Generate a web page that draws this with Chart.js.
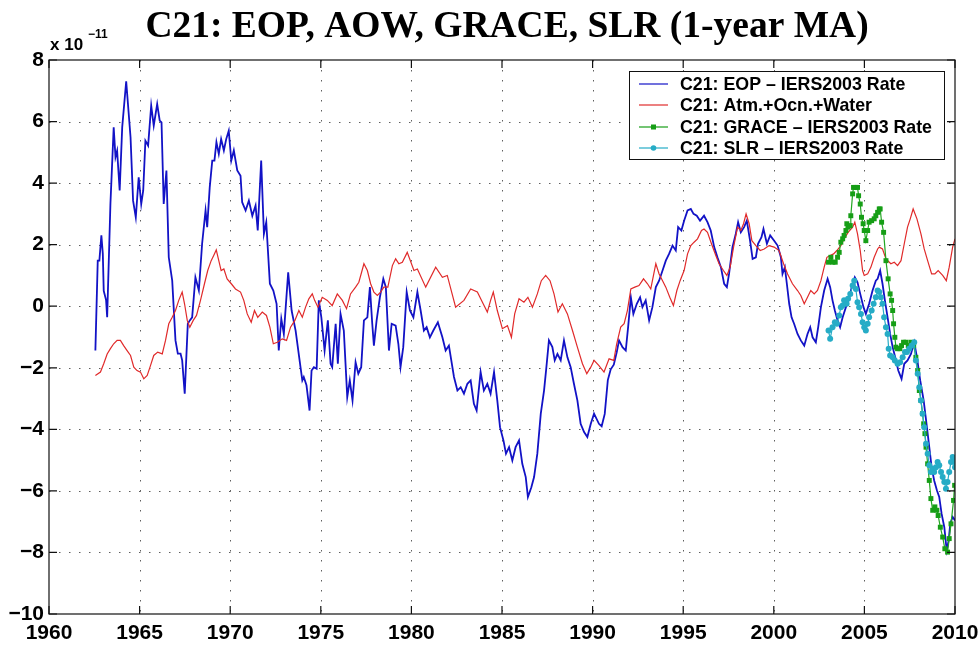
<!DOCTYPE html>
<html>
<head>
<meta charset="utf-8">
<script src="https://cdn.jsdelivr.net/npm/chart.js@4.4.0/dist/chart.umd.min.js"></script>
<style>
    html, body { margin: 0; padding: 0; background: #fff; }
</style>
</head>
<body>
<canvas id="c21Rates" width="979" height="646"></canvas>
<script>
// tick values
const xTicks = [1960, 1965, 1970, 1975, 1980, 1985, 1990, 1995, 2000, 2005, 2010];
const yTicks = [-10, -8, -6, -4, -2, 0, 2, 4, 6, 8];

// C21 EOP - IERS2003 rate (units of 1e-11)
const eopYears = [
    1962.56, 1962.69, 1962.78, 1962.89, 1962.97, 1963.02, 1963.15, 1963.21, 1963.39, 1963.57,
    1963.67, 1963.76, 1963.90, 1964.04, 1964.26, 1964.50, 1964.64, 1964.79, 1964.95, 1965.09,
    1965.20, 1965.32, 1965.47, 1965.64, 1965.78, 1965.97, 1966.11, 1966.21, 1966.33, 1966.48,
    1966.61, 1966.80, 1966.98, 1967.11, 1967.26, 1967.35, 1967.49, 1967.66, 1967.77, 1967.90,
    1968.08, 1968.27, 1968.45, 1968.64, 1968.73, 1968.87, 1969.01, 1969.13, 1969.24, 1969.37,
    1969.50, 1969.65, 1969.78, 1969.92, 1970.06, 1970.20, 1970.39, 1970.57, 1970.66, 1970.85,
    1971.03, 1971.22, 1971.40, 1971.52, 1971.71, 1971.86, 1971.99, 1972.19, 1972.38, 1972.56,
    1972.68, 1972.82, 1972.96, 1973.20, 1973.39, 1973.61, 1973.88, 1973.98, 1974.06, 1974.21,
    1974.38, 1974.49, 1974.62, 1974.77, 1974.89, 1975.03, 1975.21, 1975.39, 1975.54, 1975.63,
    1975.82, 1975.94, 1976.09, 1976.27, 1976.46, 1976.60, 1976.75, 1976.92, 1977.07, 1977.23,
    1977.38, 1977.57, 1977.71, 1977.84, 1977.93, 1978.08, 1978.26, 1978.45, 1978.59, 1978.76,
    1978.91, 1979.13, 1979.28, 1979.40, 1979.55, 1979.74, 1979.92, 1980.11, 1980.33, 1980.51,
    1980.69, 1980.84, 1981.02, 1981.21, 1981.46, 1981.71, 1981.89, 1982.07, 1982.35, 1982.54,
    1982.72, 1982.90, 1983.09, 1983.27, 1983.45, 1983.60, 1983.82, 1984.00, 1984.19, 1984.37,
    1984.56, 1984.74, 1984.89, 1985.08, 1985.22, 1985.39, 1985.57, 1985.75, 1985.94, 1986.12,
    1986.31, 1986.43, 1986.62, 1986.77, 1986.95, 1987.14, 1987.32, 1987.45, 1987.59, 1987.78,
    1987.91, 1988.06, 1988.24, 1988.42, 1988.61, 1988.79, 1988.97, 1989.16, 1989.34, 1989.53,
    1989.71, 1989.90, 1990.08, 1990.35, 1990.50, 1990.67, 1990.84, 1991.00, 1991.17, 1991.33,
    1991.46, 1991.65, 1991.83, 1991.96, 1992.11, 1992.25, 1992.44, 1992.62, 1992.75, 1992.93,
    1993.12, 1993.30, 1993.49, 1993.67, 1993.86, 1994.04, 1994.22, 1994.41, 1994.59, 1994.72,
    1994.90, 1995.05, 1995.24, 1995.42, 1995.57, 1995.75, 1995.93, 1996.15, 1996.34, 1996.52,
    1996.71, 1996.89, 1997.08, 1997.26, 1997.41, 1997.53, 1997.72, 1997.90, 1998.03, 1998.18,
    1998.36, 1998.51, 1998.69, 1998.83, 1999.01, 1999.13, 1999.32, 1999.43, 1999.62, 1999.80,
    2000.02, 2000.21, 2000.39, 2000.48, 2000.61, 2000.72, 2000.85, 2000.98, 2001.12, 2001.31,
    2001.49, 2001.68, 2001.86, 2002.01, 2002.14, 2002.32, 2002.45, 2002.60, 2002.78, 2002.97,
    2003.11, 2003.24, 2003.37, 2003.52, 2003.66, 2003.80, 2003.98, 2004.16, 2004.35, 2004.47,
    2004.62, 2004.77, 2004.95, 2005.08, 2005.26, 2005.45, 2005.63, 2005.73, 2005.87, 2006.00,
    2006.13, 2006.28, 2006.42, 2006.56, 2006.70, 2006.87, 2007.05, 2007.20, 2007.38, 2007.57,
    2007.75, 2007.90, 2008.08, 2008.27, 2008.45, 2008.58, 2008.71, 2008.85, 2009.00, 2009.13,
    2009.26, 2009.41, 2009.54, 2009.65, 2009.74, 2009.87, 2010.00
];
const eopRate = [
    -1.44, 1.48, 1.48, 2.30, 1.70, 0.50, 0.20, -0.36, 3.33, 5.81,
    4.84, 5.05, 3.76, 5.81, 7.31, 5.49, 3.43, 2.89, 4.19, 3.32,
    3.76, 5.38, 5.22, 6.52, 5.87, 6.57, 6.03, 5.97, 3.32, 4.41,
    1.59, 0.83, -1.11, -1.54, -1.54, -1.76, -2.84, -0.57, -0.46, -0.36,
    0.94, 0.51, 2.03, 3.11, 2.57, 3.86, 4.73, 4.73, 5.33, 4.95,
    5.43, 5.06, 5.43, 5.70, 4.73, 5.06, 4.41, 4.24, 3.38, 3.11,
    3.43, 2.94, 3.27, 2.46, 4.73, 2.35, 2.73, 0.73, 0.51, 0.08,
    -1.44, -0.41, -0.90, 1.10, -0.14, -0.79, -1.98, -2.41, -2.30, -2.57,
    -3.39, -2.09, -1.98, -2.03, 0.19, -0.36, -1.44, -0.46, -1.87, -1.98,
    -0.57, -1.87, -0.25, -0.79, -2.95, -2.41, -3.06, -1.82, -2.19, -1.98,
    -0.46, -0.36, 0.62, -0.57, -1.28, -0.46, 0.29, 0.89, 0.62, -1.44,
    -0.57, -0.63, -1.22, -1.98, -1.33, 0.46, -0.14, -0.36, 0.46, -0.14,
    -0.79, -0.68, -1.01, -0.79, -0.52, -1.01, -1.44, -1.28, -2.30, -2.74,
    -2.63, -2.84, -2.52, -2.41, -3.17, -3.39, -2.14, -2.74, -2.52, -2.84,
    -2.14, -3.06, -3.93, -4.36, -4.79, -4.58, -5.01, -4.58, -4.36, -5.12,
    -5.55, -6.20, -5.88, -5.55, -4.79, -3.49, -2.74, -1.98, -1.11, -1.33,
    -1.76, -1.55, -1.76, -1.11, -1.66, -1.98, -2.52, -3.06, -3.82, -4.09,
    -4.25, -3.82, -3.49, -3.82, -3.90, -3.50, -2.40, -2.05, -1.90, -1.50,
    -1.11, -1.33, -1.44, -0.68, 0.29, -0.25, 0.08, 0.29, -0.03, 0.19,
    -0.46, -0.03, 0.62, 0.83, 1.16, 1.48, 1.70, 1.97, 1.81, 2.57,
    2.46, 2.78, 3.11, 3.16, 3.00, 2.94, 2.78, 2.94, 2.73, 2.46,
    1.92, 1.59, 1.27, 0.73, 0.62, 1.05, 1.92, 2.35, 2.73, 2.40,
    2.57, 2.78, 2.13, 1.54, 1.59, 2.03, 2.24, 2.51, 2.03, 2.30,
    2.13, 1.97, 1.59, 1.05, 1.27, 0.73, 0.08, -0.36, -0.57, -0.90,
    -1.11, -1.28, -0.90, -0.68, -1.01, -1.17, -0.68, -0.03, 0.51, 0.89,
    0.62, 0.19, -0.14, -0.46, -0.68, -0.36, -0.03, 0.29, 0.73, 0.94,
    0.78, 0.40, -0.03, -0.25, 0.08, 0.51, 0.83, 0.89, 1.16, 0.73,
    0.19, -0.36, -0.90, -1.33, -1.66, -2.09, -2.36, -1.87, -1.76, -1.55,
    -1.17, -1.66, -2.41, -3.06, -3.93, -4.58, -5.23, -5.66, -5.98, -6.20,
    -6.74, -7.18, -7.93, -7.61, -7.06, -6.85, -6.96
];

// C21 atmosphere + ocean + water
const aowYears = [
    1962.56, 1962.84, 1963.02, 1963.21, 1963.39, 1963.57, 1963.76, 1963.94, 1964.12, 1964.31,
    1964.50, 1964.68, 1964.86, 1965.05, 1965.23, 1965.42, 1965.60, 1965.78, 1966.00, 1966.25,
    1966.43, 1966.61, 1966.80, 1966.98, 1967.16, 1967.35, 1967.48, 1967.63, 1967.77, 1967.96,
    1968.14, 1968.36, 1968.58, 1968.76, 1968.95, 1969.09, 1969.23, 1969.37, 1969.50, 1969.65,
    1969.83, 1970.06, 1970.29, 1970.57, 1970.75, 1970.94, 1971.16, 1971.34, 1971.52, 1971.77,
    1972.00, 1972.19, 1972.38, 1972.60, 1972.87, 1973.11, 1973.33, 1973.57, 1973.79, 1973.98,
    1974.16, 1974.34, 1974.53, 1974.66, 1974.84, 1975.08, 1975.36, 1975.63, 1975.91, 1976.19,
    1976.42, 1976.64, 1976.92, 1977.10, 1977.38, 1977.57, 1977.75, 1977.93, 1978.12, 1978.30,
    1978.48, 1978.70, 1978.95, 1979.13, 1979.31, 1979.50, 1979.77, 1980.14, 1980.33, 1980.79,
    1981.34, 1981.71, 1981.98, 1982.44, 1982.90, 1983.27, 1983.64, 1983.92, 1984.19, 1984.37,
    1984.52, 1984.74, 1985.02, 1985.30, 1985.52, 1985.70, 1985.94, 1986.21, 1986.43, 1986.68,
    1986.95, 1987.17, 1987.41, 1987.65, 1987.87, 1988.09, 1988.33, 1988.61, 1988.89, 1989.16,
    1989.44, 1989.68, 1989.90, 1990.08, 1990.35, 1990.63, 1990.91, 1991.17, 1991.33, 1991.55,
    1991.74, 1991.92, 1992.11, 1992.33, 1992.56, 1992.81, 1993.03, 1993.21, 1993.49, 1993.67,
    1993.86, 1994.04, 1994.26, 1994.46, 1994.65, 1994.83, 1995.05, 1995.24, 1995.42, 1995.60,
    1995.79, 1996.01, 1996.15, 1996.34, 1996.56, 1996.80, 1996.98, 1997.22, 1997.41, 1997.59,
    1997.78, 1998.00, 1998.18, 1998.33, 1998.47, 1998.64, 1998.79, 1999.01, 1999.25, 1999.47,
    1999.74, 2000.02, 2000.29, 2000.54, 2000.76, 2001.03, 2001.31, 2001.49, 2001.68, 2001.86,
    2002.04, 2002.23, 2002.41, 2002.60, 2002.78, 2002.93, 2003.11, 2003.30, 2003.48, 2003.70,
    2003.88, 2004.10, 2004.35, 2004.47, 2004.62, 2004.77, 2004.90, 2004.99, 2005.18, 2005.36,
    2005.54, 2005.73, 2005.82, 2006.00, 2006.19, 2006.46, 2006.65, 2006.83, 2007.02, 2007.20,
    2007.38, 2007.53, 2007.69, 2007.90, 2008.12, 2008.30, 2008.49, 2008.71, 2008.89, 2009.07,
    2009.32, 2009.52, 2009.68, 2009.87, 2010.00
];
const aowRate = [
    -2.25, -2.14, -1.87, -1.55, -1.38, -1.22, -1.11, -1.11, -1.28, -1.44,
    -1.60, -1.98, -2.09, -2.14, -2.36, -2.25, -1.93, -1.60, -1.49, -1.55,
    -1.11, -0.57, -0.36, -0.14, 0.19, 0.46, 0.08, -0.46, -0.68, -0.46,
    -0.30, 0.19, 0.73, 1.16, 1.48, 1.65, 1.83, 1.48, 1.16, 1.21,
    0.89, 0.73, 0.56, 0.46, 0.19, -0.25, -0.52, -0.14, -0.36, -0.19,
    -0.30, -0.68, -1.22, -1.17, -1.06, -1.11, -0.68, -0.46, -0.14, -0.36,
    -0.03, 0.24, 0.40, 0.19, -0.03, 0.29, 0.19, 0.02, 0.40, 0.19,
    -0.08, 0.40, 0.62, 0.78, 1.38, 1.16, 0.73, 0.46, 0.35, 0.46,
    0.62, 0.62, 1.32, 1.54, 1.38, 1.43, 1.75, 1.16, 1.21, 0.62,
    1.27, 0.94, 1.00, -0.03, 0.19, 0.56, 0.46, 0.13, -0.19, 0.19,
    0.46, -0.14, -0.73, -0.63, -1.01, -0.25, 0.24, 0.13, 0.29, -0.03,
    0.40, 0.83, 1.00, 0.83, 0.40, -0.19, 0.08, -0.25, -0.79, -1.33,
    -1.87, -2.19, -1.98, -1.76, -1.93, -2.14, -1.71, -1.76, -1.22, -0.68,
    -0.57, -0.14, 0.56, 0.62, 0.67, 0.89, 0.73, 0.56, 1.38, 1.05,
    0.83, 0.62, 0.29, 0.02, 0.51, 0.83, 1.16, 1.70, 1.97, 2.08,
    2.19, 2.46, 2.51, 2.40, 2.03, 1.65, 1.38, 1.16, 1.00, 1.27,
    1.92, 2.57, 2.46, 2.68, 3.00, 2.68, 2.13, 1.97, 1.81, 1.86,
    1.97, 1.92, 1.81, 1.38, 1.05, 0.73, 0.51, 0.35, 0.08, 0.29,
    0.51, 0.40, 0.51, 0.83, 1.27, 1.59, 1.65, 1.70, 1.81, 1.97,
    2.19, 2.40, 2.57, 2.73, 2.35, 1.81, 1.16, 1.00, 1.05, 1.27,
    1.59, 1.86, 1.92, 1.86, 1.54, 1.38, 1.43, 1.32, 1.48, 2.03,
    2.57, 2.84, 3.16, 2.84, 2.35, 1.86, 1.48, 1.05, 1.05, 1.16,
    1.00, 0.83, 1.27, 1.92, 2.19
];

// C21 GRACE - IERS2003 rate
const graceYears = [
    2003.02, 2003.15, 2003.26, 2003.39, 2003.52, 2003.61, 2003.70, 2003.80, 2003.88, 2003.98,
    2004.03, 2004.10, 2004.22, 2004.25, 2004.35, 2004.40, 2004.53, 2004.62, 2004.68, 2004.77,
    2004.84, 2004.93, 2004.99, 2005.08, 2005.18, 2005.26, 2005.40, 2005.54, 2005.63, 2005.73,
    2005.82, 2005.87, 2005.95, 2006.06, 2006.19, 2006.31, 2006.42, 2006.50, 2006.56, 2006.61,
    2006.68, 2006.74, 2006.83, 2006.96, 2007.05, 2007.16, 2007.29, 2007.42, 2007.57, 2007.72,
    2007.84, 2007.94, 2008.03, 2008.12, 2008.21, 2008.27, 2008.34, 2008.40, 2008.49, 2008.58,
    2008.67, 2008.77, 2008.89, 2009.00, 2009.07, 2009.19, 2009.32, 2009.44, 2009.59, 2009.68,
    2009.78, 2009.92, 2009.98
];
const graceRate = [
    1.43, 1.59, 1.43, 1.43, 1.59, 1.75, 2.08, 2.19, 2.30, 2.46,
    2.68, 2.57, 2.62, 2.94, 3.65, 3.86, 3.86, 3.86, 3.59, 3.32,
    2.89, 2.68, 2.46, 2.13, 2.46, 2.73, 2.78, 2.84, 2.94, 3.05,
    3.16, 3.16, 2.73, 2.40, 1.48, 0.89, 0.40, 0.19, -0.14, -0.57,
    -1.01, -1.33, -1.38, -1.38, -1.28, -1.17, -1.17, -1.28, -1.17, -1.28,
    -1.66, -2.09, -2.74, -3.06, -3.49, -3.82, -4.14, -4.58, -5.12, -5.66,
    -6.25, -6.63, -6.52, -6.63, -6.80, -7.18, -7.50, -7.88, -7.99, -7.55,
    -7.07, -6.31, -5.82
];

// C21 SLR - IERS2003 rate
const slrYears = [
    2003.02, 2003.11, 2003.24, 2003.37, 2003.48, 2003.61, 2003.70, 2003.80, 2003.88, 2004.02,
    2004.10, 2004.22, 2004.35, 2004.44, 2004.53, 2004.62, 2004.71, 2004.81, 2004.90, 2004.99,
    2005.08, 2005.18, 2005.26, 2005.40, 2005.51, 2005.63, 2005.73, 2005.82, 2005.91, 2006.00,
    2006.09, 2006.19, 2006.28, 2006.34, 2006.42, 2006.56, 2006.68, 2006.83, 2006.97, 2007.11,
    2007.24, 2007.35, 2007.47, 2007.61, 2007.75, 2007.84, 2007.94, 2008.03, 2008.12, 2008.21,
    2008.30, 2008.40, 2008.49, 2008.58, 2008.67, 2008.77, 2008.85, 2008.95, 2009.04, 2009.13,
    2009.23, 2009.32, 2009.41, 2009.50, 2009.59, 2009.68, 2009.78, 2009.87, 2009.96, 2010.00
];
const slrRate = [
    -0.79, -1.06, -0.68, -0.52, -0.57, -0.30, -0.03, 0.02, 0.19, 0.08,
    0.24, 0.40, 0.67, 0.83, 0.56, 0.13, -0.03, -0.25, -0.52, -0.68,
    -0.79, -0.57, -0.36, -0.14, 0.08, 0.29, 0.51, 0.46, 0.29, 0.08,
    -0.36, -0.68, -0.90, -1.38, -1.60, -1.66, -1.76, -1.87, -1.82, -1.66,
    -1.49, -1.49, -1.38, -1.28, -1.17, -1.76, -2.19, -2.63, -3.06, -3.49,
    -3.93, -4.47, -4.79, -5.17, -5.39, -5.28, -5.39, -5.23, -5.06, -5.17,
    -5.39, -5.55, -5.71, -5.93, -5.71, -5.39, -5.06, -4.90, -5.06, -5.23
];

const seriesNames = [
    'C21: EOP \u2013 IERS2003 Rate',
    'C21: Atm.+Ocn.+Water',
    'C21: GRACE \u2013 IERS2003 Rate',
    'C21: SLR \u2013 IERS2003 Rate'
];
const seriesColors = ['#1212c6', '#e02a2a', '#169e16', '#26acc6'];

const toPoints = (xs, ys) => xs.map((x, i) => ({ x: x, y: ys[i] }));
const minus = v => (v < 0 ? '\u2212' + Math.abs(v) : String(v));

// MATLAB-like axes box, dotted grid, inward ticks, title and legend
const matlabAxes = {
    id: 'matlabAxes',
    beforeDatasetsDraw(chart) {
        const { ctx, chartArea: a, scales: { x, y } } = chart;
        ctx.save();
        ctx.strokeStyle = 'rgba(40,40,40,0.75)';
        ctx.lineWidth = 1;
        ctx.setLineDash([1.5, 8.5]);
        xTicks.slice(1, -1).forEach(v => {
            const px = Math.round(x.getPixelForValue(v)) + 0.5;
            ctx.beginPath();
            ctx.moveTo(px, a.top);
            ctx.lineTo(px, a.bottom);
            ctx.stroke();
        });
        yTicks.slice(1, -1).forEach(v => {
            const py = Math.round(y.getPixelForValue(v)) + 0.5;
            ctx.beginPath();
            ctx.moveTo(a.left, py);
            ctx.lineTo(a.right, py);
            ctx.stroke();
        });
        ctx.restore();
    },
    afterDatasetsDraw(chart) {
        const { ctx, chartArea: a, scales: { x, y } } = chart;
        const tick = 8;
        ctx.save();
        ctx.strokeStyle = '#111';
        ctx.lineWidth = 1.2;
        ctx.strokeRect(a.left, a.top, a.right - a.left, a.bottom - a.top);
        ctx.beginPath();
        xTicks.forEach(v => {
            const px = x.getPixelForValue(v);
            ctx.moveTo(px, a.bottom);
            ctx.lineTo(px, a.bottom - tick);
            ctx.moveTo(px, a.top);
            ctx.lineTo(px, a.top + tick);
        });
        yTicks.forEach(v => {
            const py = y.getPixelForValue(v);
            ctx.moveTo(a.left, py);
            ctx.lineTo(a.left + tick, py);
            ctx.moveTo(a.right, py);
            ctx.lineTo(a.right - tick, py);
        });
        ctx.stroke();
        ctx.restore();
    },
    afterDraw(chart) {
        const { ctx, chartArea: a } = chart;
        ctx.save();
        ctx.fillStyle = '#000';

        // title
        ctx.font = 'bold 37.5px "Liberation Serif", "Times New Roman", serif';
        ctx.textAlign = 'center';
        ctx.textBaseline = 'alphabetic';
        ctx.fillText('C21: EOP, AOW, GRACE, SLR (1-year MA)', (a.left + a.right) / 2 + 5, 37);

        // exponent label
        ctx.textAlign = 'left';
        ctx.font = 'bold 17px "Liberation Sans", Arial, sans-serif';
        ctx.fillText('x 10', a.left + 1, 50);
        ctx.font = 'bold 12px "Liberation Sans", Arial, sans-serif';
        ctx.fillText('\u221211', a.left + 39, 38);

        // legend box
        const bx = a.right - 326, by = a.top + 11, bw = 315, bh = 88;
        ctx.fillStyle = '#fff';
        ctx.fillRect(bx, by, bw, bh);
        ctx.strokeStyle = '#111';
        ctx.lineWidth = 1;
        ctx.strokeRect(bx + 0.5, by + 0.5, bw, bh);
        const rows = [13, 34, 56, 77];
        ctx.font = 'bold 17.8px "Liberation Sans", Arial, sans-serif';
        ctx.textBaseline = 'middle';
        seriesNames.forEach((name, i) => {
            const ry = by + rows[i];
            ctx.strokeStyle = seriesColors[i];
            ctx.lineWidth = 1.2;
            ctx.beginPath();
            ctx.moveTo(bx + 10, ry);
            ctx.lineTo(bx + 39, ry);
            ctx.stroke();
            ctx.fillStyle = seriesColors[i];
            if (i === 2) ctx.fillRect(bx + 22, ry - 2.5, 5, 5);
            if (i === 3) { ctx.beginPath(); ctx.arc(bx + 24.5, ry, 2.8, 0, Math.PI * 2); ctx.fill(); }
            ctx.fillStyle = '#000';
            ctx.fillText(name, bx + 51, ry + 1);
        });
        ctx.restore();
    }
};

const tickFont = { family: '"Liberation Sans", Arial, sans-serif', size: 21, weight: 'bold' };

new Chart(document.getElementById('c21Rates'), {
    type: 'line',
    data: {
        datasets: [
            {
                label: seriesNames[0],
                data: toPoints(eopYears, eopRate),
                borderColor: seriesColors[0],
                borderWidth: 1.8,
                pointRadius: 0,
                order: 4
            },
            {
                label: seriesNames[1],
                data: toPoints(aowYears, aowRate),
                borderColor: seriesColors[1],
                borderWidth: 1.2,
                pointRadius: 0,
                order: 3
            },
            {
                label: seriesNames[2],
                data: toPoints(graceYears, graceRate),
                borderColor: '#22a622',
                borderWidth: 1.2,
                pointStyle: 'rect',
                pointRadius: 3.5,
                pointBorderWidth: 0,
                pointBackgroundColor: seriesColors[2],
                order: 2
            },
            {
                label: seriesNames[3],
                data: toPoints(slrYears, slrRate),
                borderColor: seriesColors[3],
                borderWidth: 1.2,
                pointStyle: 'circle',
                pointRadius: 3,
                pointBorderWidth: 0,
                pointBackgroundColor: seriesColors[3],
                order: 1
            }
        ]
    },
    options: {
        responsive: false,
        animation: false,
        layout: { padding: { top: 60, right: 24, bottom: 0, left: 0 } },
        elements: { line: { tension: 0 } },
        scales: {
            x: {
                type: 'linear',
                min: xTicks[0],
                max: xTicks[xTicks.length - 1],
                afterFit(scale) {
                    scale.height = 32;
                    scale.paddingLeft = 0;
                    scale.paddingRight = 0;
                },
                afterBuildTicks(scale) { scale.ticks = xTicks.map(v => ({ value: v })); },
                grid: { display: false, drawTicks: false },
                border: { display: false },
                ticks: {
                    padding: 7,
                    maxRotation: 0,
                    autoSkip: false,
                    color: '#000',
                    font: tickFont,
                    callback: v => String(v)
                }
            },
            y: {
                type: 'linear',
                min: yTicks[0],
                max: yTicks[yTicks.length - 1],
                afterFit(scale) {
                    scale.width = 49;
                    scale.paddingTop = 0;
                    scale.paddingBottom = 0;
                },
                afterBuildTicks(scale) { scale.ticks = yTicks.map(v => ({ value: v })); },
                grid: { display: false, drawTicks: false },
                border: { display: false },
                ticks: {
                    padding: 5,
                    autoSkip: false,
                    color: '#000',
                    font: tickFont,
                    callback: v => minus(v)
                }
            }
        },
        plugins: {
            legend: { display: false },
            title: { display: false },
            tooltip: { enabled: false }
        }
    },
    plugins: [matlabAxes]
});
</script>
</body>
</html>
